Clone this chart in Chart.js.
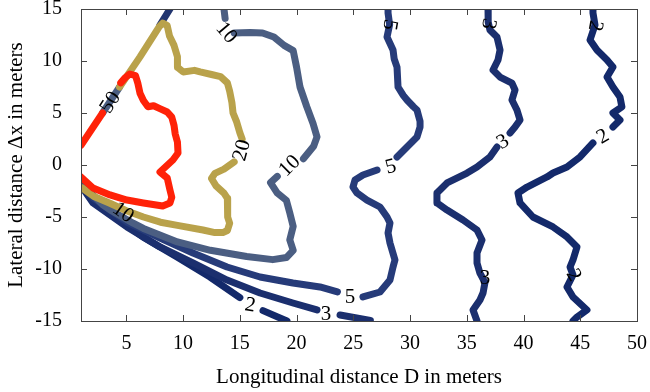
<!DOCTYPE html>
<html>
<head>
<meta charset="utf-8">
<script src="https://cdn.jsdelivr.net/npm/chart.js@4/dist/chart.umd.min.js"></script>
<style>
  html, body { margin: 0; padding: 0; background: #fff; }
</style>
</head>
<body>
<canvas id="chart" width="650" height="392"></canvas>
<script>
// tick values
const xTicks = [5, 10, 15, 20, 25, 30, 35, 40, 45, 50];
const yTicks = [-15, -10, -5, 0, 5, 10, 15];

// contour lines, [D, dx] pairs, null = gap for a label
const red50 = [[1.0,1.9],[2.9,5.0],null,[4.5,7.9],[4.9,8.4],[5.3,8.75],[5.8,8.6],[6.0,7.9],[6.2,6.9],[6.5,6.2],[6.9,5.6],[7.4,5.7],[8.0,5.4],[8.6,5.1],[9.0,4.6],[9.2,3.8],[9.3,3.0],[9.5,2.2],[9.55,1.15],[9.1,0.48],[7.96,-0.67],[8.6,-1.25],[8.84,-2.4],[9.0,-3.1],[8.84,-3.65],[8.2,-3.94],[6.5,-3.65],[5.05,-3.37],[3.56,-2.88],[2.06,-2.21],[1.0,-1.15]];
const gold20 = [[4.4,7.5],[6.2,10.4],[7.9,13.3],[8.2,13.65],[8.6,13.4],[8.8,12.4],[9.2,11.5],[9.5,10.4],[9.5,9.4],[10.0,8.95],[11.0,9.1],[11.5,8.95],[12.5,8.7],[13.3,8.5],[13.9,7.9],[14.1,7.1],[14.3,6.0],[14.4,5.0],[14.7,4.2],[15.0,3.1],[15.2,2.5],null,[14.5,0.3],[13.6,-0.4],[12.8,-0.8],[12.5,-1.3],[12.9,-2.0],[13.6,-2.7],[13.9,-3.2],[13.95,-4.0],[13.9,-5.0],[14.1,-5.6],[13.9,-6.3],[13.5,-6.5],[12.8,-6.5],[11.75,-6.25],[9.5,-5.8],[8.0,-5.5],[6.5,-5.0],[5.0,-4.4],[3.6,-3.7],[2.1,-3.0],[1.1,-2.2]];
const slate10 = [[13.6,15.0],[13.7,14.1],null,[14.5,12.7],[15.9,12.75],[17.0,12.7],[18.0,12.3],[18.9,11.5],[19.7,11.0],[20.0,9.4],[20.3,7.5],[20.9,5.6],[21.45,4.0],[21.8,2.7],[21.5,1.8],[20.6,0.6],null,[18.3,-1.1],[17.7,-1.7],[18.3,-2.7],[19.1,-3.4],[19.4,-4.6],[19.7,-5.9],[19.4,-7.2],[19.7,-8.2],[19.1,-8.9],[17.9,-9.1],[15.6,-8.8],[12.4,-8.2],[9.5,-7.4],[6.5,-6.1],[5.6,-5.6],[3.7,-4.4],[2.9,-3.8],[1.5,-2.3],[1.1,-2.1]];
const slateEdge = [[2.9,5.0],[4.4,7.5]];
const navyEdge = [[7.96,13.46],[8.84,15.0]];
const blue5 = [[28.06,15.0],[28.06,14.62],[28.2,13.5],[27.97,12.31],[28.5,11.06],[28.6,10.2],[28.85,9.42],[28.94,7.5],[29.4,6.7],[29.73,6.25],[30.3,5.6],[30.61,5.29],[30.88,4.2],[30.88,3.65],[30.61,2.69],[29.73,1.73],[28.85,0.77],null,[27.09,-0.48],[25.85,-0.96],[25.15,-1.44],[24.97,-2.12],[25.32,-2.69],[26.2,-3.37],[27.35,-4.04],[27.97,-5.0],[28.23,-5.58],[28.06,-6.54],[28.23,-7.5],[28.67,-9.13],[28.5,-9.81],[28.23,-11.06],[27.35,-12.21],[25.85,-12.69],null,[23.6,-12.2],[22.06,-11.73],[19.68,-11.35],[16.78,-10.77],[13.87,-9.81],[10.87,-8.46],[7.96,-7.02],[5.05,-5.48],[2.06,-3.17],[1.09,-2.0]];
const navy3Fan = [[1.09,-2.12],[2.06,-3.65],[5.05,-5.96],[7.96,-7.88],[10.87,-9.42],[13.87,-11.06],[16.78,-12.31],[19.68,-13.27],[21.8,-13.94],null,[23.83,-14.42],[26.5,-14.95]];
const navy3Right = [[36.87,15.0],[36.87,14.62],[36.9,13.75],[37.04,12.98],[37.66,12.31],[37.93,11.06],[37.75,10.1],[37.31,9.13],[37.93,8.46],[38.98,7.88],[39.25,7.21],[38.98,6.25],[39.42,5.29],[39.69,4.33],[39.25,3.65],[38.81,3.08],null,[37.66,1.73],[37.04,0.77],[35.9,-0.19],[35.02,-0.77],[33.26,-1.73],[32.37,-2.69],[32.37,-3.65],[33.26,-4.33],[34.67,-5.29],[35.9,-6.25],[36.34,-7.21],[35.9,-8.46],[35.9,-9.42],[36.16,-10.4],[36.6,-11.3],[36.43,-12.31],[36.16,-12.98],[35.55,-13.94],[35.9,-15.0]];
const navy2Fan = [[1.09,-2.2],[1.53,-2.4],[2.06,-3.37],[3.56,-4.62],[6.46,-6.92],[9.46,-8.85],[12.37,-10.77],[15.0,-12.75],null,[17.04,-14.0],[19.15,-15.0]];
const navy2Right = [[46.12,15.0],[46.12,14.62],[46.3,13.46],[45.86,12.02],[46.47,11.06],[47.36,10.1],[47.88,9.42],[47.36,8.46],[47.88,7.5],[48.5,6.54],[48.67,5.58],[47.88,5.0],[48.5,4.33],[47.88,3.65],null,[46.12,2.12],[44.98,0.77],[43.83,-0.19],[42.6,-0.77],[42.07,-1.15],[40.31,-2.12],[39.51,-2.69],[39.69,-3.65],[40.83,-5.0],[42.6,-5.96],[43.83,-6.92],[44.71,-7.88],[44.36,-9.13],[44.1,-9.81],[44.36,-10.58],[43.83,-11.73],[44.36,-12.69],[45.59,-13.94],[44.71,-14.62],[44.36,-15.0]];

// contour labels: text, D, dx, rotation in degrees
const labelText = ["50", "10", "20", "10", "10", "5", "5", "5", "3", "3", "3", "3", "2", "2", "2", "2"];
const labelX = [3.6, 13.8, 15.2, 19.4, 4.7, 28.2, 28.3, 24.7, 36.9, 38.2, 36.6, 22.6, 46.3, 47.0, 44.4, 15.9];
const labelY = [6.0, 12.7, 1.4, -0.1, -4.6, 13.5, -0.2, -12.7, 13.6, 2.2, -10.9, -14.4, 13.4, 2.7, -10.6, -13.5];
const labelRot = [-57, 50, -75, -45, 35, 100, -15, 0, 100, -30, 0, 0, 100, -30, 60, 10];

const serif = "'Liberation Serif', 'Times New Roman', serif";

function toPoints(arr) {
  let lastX = 0;
  return arr.map(p => {
    if (p === null) return { x: lastX, y: null };
    lastX = p[0];
    return { x: p[0], y: p[1] };
  });
}

function lineSet(arr, color, order) {
  return {
    data: toPoints(arr),
    borderColor: color,
    borderWidth: 7,
    borderCapStyle: "round",
    borderJoinStyle: "round",
    pointRadius: 0,
    tension: 0,
    spanGaps: false,
    order: order
  };
}

function noPad(s) {
  s.paddingTop = 0; s.paddingBottom = 0;
  s.paddingLeft = 0; s.paddingRight = 0;
}

const decorPlugin = {
  id: "decor",
  afterDraw(chart) {
    const ctx = chart.ctx;
    const a = chart.chartArea;
    const xs = chart.scales.x, ys = chart.scales.y;

    // contour labels
    ctx.save();
    ctx.fillStyle = "#000";
    ctx.font = "21px " + serif;
    ctx.textAlign = "center";
    ctx.textBaseline = "middle";
    labelText.forEach((t, i) => {
      ctx.save();
      ctx.translate(xs.getPixelForValue(labelX[i]), ys.getPixelForValue(labelY[i]));
      ctx.rotate(labelRot[i] * Math.PI / 180);
      ctx.fillText(t, 0, 0);
      ctx.restore();
    });
    ctx.restore();

    // box and inward ticks
    ctx.save();
    ctx.strokeStyle = "#444";
    ctx.lineWidth = 1;
    ctx.strokeRect(a.left + 0.5, a.top + 0.5, a.right - a.left, a.bottom - a.top);
    ctx.beginPath();
    xTicks.forEach(v => {
      const px = Math.round(xs.getPixelForValue(v)) + 0.5;
      ctx.moveTo(px, a.bottom); ctx.lineTo(px, a.bottom - 6);
      ctx.moveTo(px, a.top); ctx.lineTo(px, a.top + 6);
    });
    yTicks.forEach(v => {
      const py = Math.round(ys.getPixelForValue(v)) + 0.5;
      ctx.moveTo(a.left, py); ctx.lineTo(a.left + 6, py);
      ctx.moveTo(a.right, py); ctx.lineTo(a.right - 6, py);
    });
    ctx.stroke();
    ctx.restore();

    // axis titles
    ctx.save();
    ctx.fillStyle = "#000";
    ctx.font = "21px " + serif;
    ctx.textAlign = "center";
    ctx.textBaseline = "middle";
    ctx.fillText("Longitudinal distance D in meters", (a.left + a.right) / 2, 377);
    ctx.translate(16, (a.top + a.bottom) / 2);
    ctx.rotate(-Math.PI / 2);
    ctx.fillText("Lateral distance \u0394x in meters", 0, 0);
    ctx.restore();
  }
};

new Chart(document.getElementById("chart"), {
  type: "line",
  data: {
    datasets: [
      lineSet(navy2Fan, "#13296a", 8),
      lineSet(navy2Right, "#13296a", 8),
      lineSet(navy3Fan, "#1b2f6e", 7),
      lineSet(navy3Right, "#1b2f6e", 7),
      lineSet(blue5, "#263b79", 6),
      lineSet(navyEdge, "#22356f", 6),
      lineSet(slate10, "#4b5e82", 5),
      lineSet(slateEdge, "#4b5e82", 5),
      lineSet(gold20, "#b9a24b", 4),
      lineSet(red50, "#ff2208", 3)
    ]
  },
  options: {
    responsive: false,
    devicePixelRatio: 1,
    animation: false,
    layout: { padding: { top: 9, right: 13, left: 0, bottom: 0 } },
    plugins: { legend: { display: false }, tooltip: { enabled: false } },
    scales: {
      x: {
        type: "linear",
        min: 1,
        max: 50,
        afterBuildTicks: s => { s.ticks = xTicks.map(v => ({ value: v })); },
        afterFit: s => { s.height = 71; noPad(s); },
        grid: { display: false },
        border: { display: false },
        ticks: { color: "#000", padding: 3, maxRotation: 0, font: { family: serif, size: 20 } }
      },
      y: {
        type: "linear",
        min: -15,
        max: 15,
        afterBuildTicks: s => { s.ticks = yTicks.map(v => ({ value: v })); },
        afterFit: s => { s.width = 81; noPad(s); },
        grid: { display: false },
        border: { display: false },
        ticks: { color: "#000", padding: 11, font: { family: serif, size: 20 } }
      }
    }
  },
  plugins: [decorPlugin]
});
</script>
</body>
</html>
